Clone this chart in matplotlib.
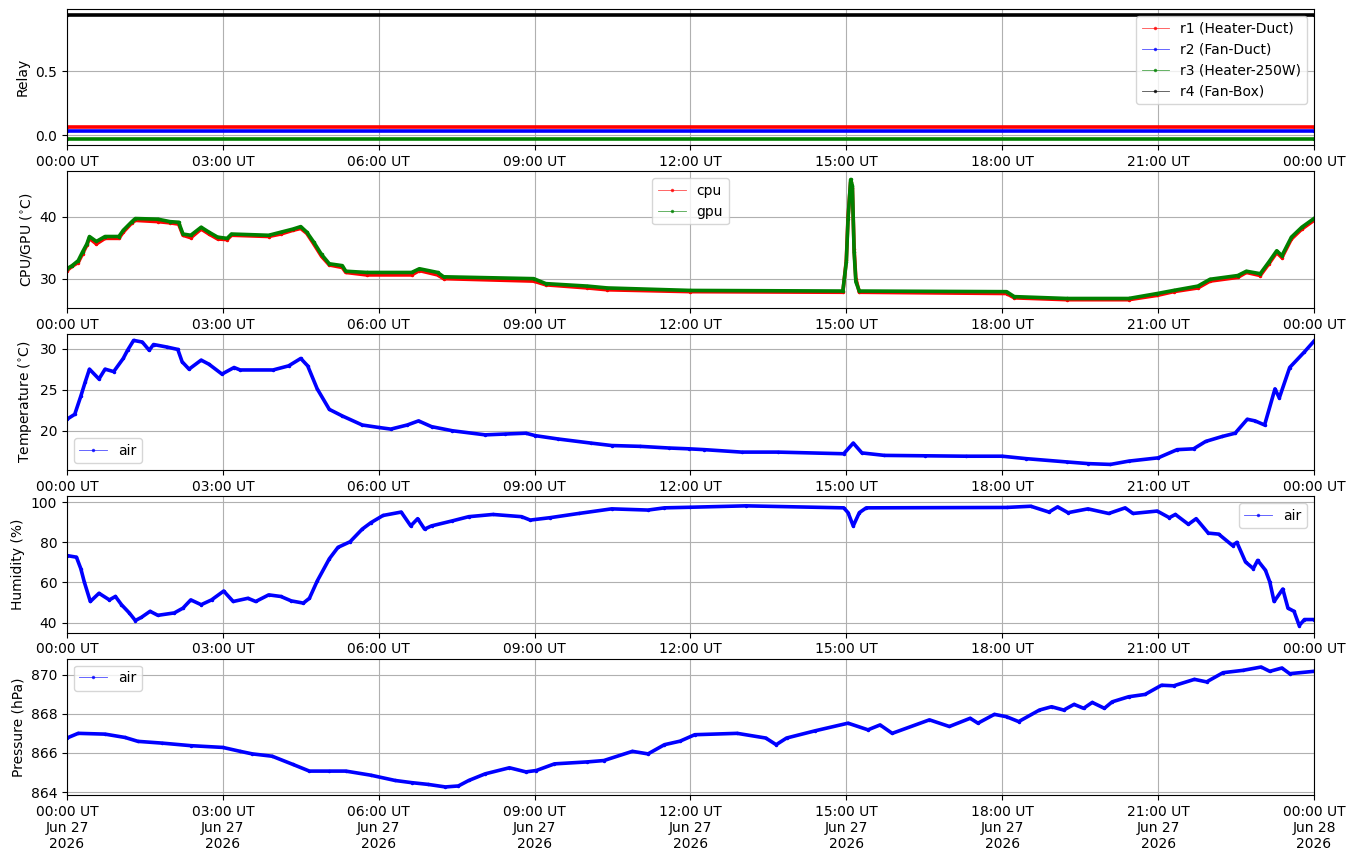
import numpy as np
import pandas as pd
import matplotlib
matplotlib.use('Agg')
import matplotlib.pyplot as plt
import matplotlib.dates as mdates
from matplotlib.lines import Line2D

day_start = pd.Timestamp('2026-06-27 00:00')
day_end = pd.Timestamp('2026-06-28 00:00')

# relay states (constant over the day), drawn with small offsets so they don't overlap
relay_min = [0, 1440]
relay_names = ['r1 (Heater-Duct)', 'r2 (Fan-Duct)', 'r3 (Heater-250W)', 'r4 (Fan-Box)']
relay_colors = ['red', 'blue', 'green', 'black']
relay_state = [[0, 0], [0, 0], [0, 0], [1, 1]]
relay_offset = [0.06, 0.03, -0.03, -0.06]

# cpu / gpu temperature (minutes since midnight, deg C)
cpu_min = [0, 6, 13, 18, 23, 26, 34, 44, 60, 65, 75, 79, 105, 119, 129, 134, 143, 155,
           164, 174, 185, 190, 233, 247, 261, 270, 277, 285, 294, 303, 318, 322, 346, 398,
           407, 428, 435, 539, 553, 601, 624, 720, 896, 900, 902, 905, 907, 909, 911, 915,
           1085, 1094, 1155, 1226, 1259, 1278, 1306, 1320, 1352, 1362, 1378, 1388, 1397,
           1403, 1414, 1426, 1440]
gpu_val = [31.6, 32.1, 32.9, 34.3, 35.6, 36.8, 36.0, 36.8, 36.8, 37.8, 39.2, 39.7, 39.6,
           39.2, 39.1, 37.2, 37.0, 38.3, 37.5, 36.7, 36.5, 37.2, 37.0, 37.5, 38.0, 38.4,
           37.5, 35.9, 33.9, 32.4, 32.1, 31.2, 31.0, 31.0, 31.6, 31.0, 30.3, 30.0, 29.2,
           28.8, 28.5, 28.1, 28.0, 32.7, 39.6, 46.0, 45.0, 34.3, 29.5, 28.0, 27.9, 27.1,
           26.8, 26.8, 27.6, 28.1, 28.8, 29.9, 30.5, 31.2, 30.8, 32.7, 34.5, 33.7, 36.7,
           38.3, 39.7]
cpu_val = [31.3, 32.0, 32.6, 34.0, 35.4, 36.5, 35.6, 36.5, 36.5, 37.5, 39.0, 39.4, 39.2,
           39.0, 38.8, 37.0, 36.6, 38.0, 37.2, 36.4, 36.3, 37.0, 36.8, 37.2, 37.8, 38.1,
           37.3, 35.6, 33.6, 32.2, 31.8, 31.0, 30.6, 30.6, 31.3, 30.6, 30.0, 29.6, 29.0,
           28.5, 28.2, 27.9, 27.8, 33.0, 40.0, 45.6, 44.6, 34.8, 30.0, 27.8, 27.6, 26.9,
           26.6, 26.6, 27.3, 27.9, 28.5, 29.6, 30.2, 31.0, 30.5, 32.4, 34.2, 33.4, 36.4,
           38.0, 39.4]

# air temperature (deg C)
temp_min = [0, 9, 16, 21, 26, 37, 44, 54, 65, 70, 77, 87, 95, 100, 115, 128, 133, 141, 155,
            164, 179, 193, 200, 238, 256, 270, 278, 289, 303, 318, 341, 360, 374, 393, 406,
            421, 445, 483, 506, 530, 541, 567, 605, 629, 662, 695, 718, 736, 779, 821, 897,
            908, 918, 944, 991, 1038, 1080, 1108, 1155, 1179, 1205, 1226, 1260, 1282, 1301,
            1315, 1334, 1349, 1363, 1372, 1383, 1395, 1400, 1412, 1429, 1440]
temp_val = [21.4, 22.0, 24.2, 25.9, 27.5, 26.3, 27.5, 27.2, 28.8, 29.8, 31.0, 30.8, 29.8,
            30.5, 30.2, 29.9, 28.4, 27.5, 28.6, 28.1, 26.9, 27.7, 27.4, 27.4, 27.9, 28.8,
            27.9, 25.1, 22.6, 21.8, 20.7, 20.4, 20.2, 20.7, 21.2, 20.5, 20.0, 19.5, 19.6,
            19.7, 19.4, 19.0, 18.5, 18.2, 18.1, 17.9, 17.8, 17.7, 17.4, 17.4, 17.2, 18.5,
            17.3, 17.0, 16.95, 16.9, 16.9, 16.6, 16.2, 16.0, 15.9, 16.3, 16.7, 17.7, 17.8,
            18.7, 19.3, 19.7, 21.4, 21.2, 20.7, 25.1, 24.0, 27.7, 29.6, 30.9]

# humidity (%)
hum_min = [0, 11, 16, 20, 27, 37, 49, 56, 63, 72, 79, 86, 96, 105, 124, 134, 143, 155, 167,
           181, 192, 209, 218, 233, 247, 259, 273, 280, 289, 303, 313, 327, 341, 351, 365,
           386, 397, 405, 413, 421, 445, 464, 492, 525, 535, 558, 591, 629, 671, 690, 720,
           784, 897, 902, 908, 915, 923, 1085, 1113, 1134, 1144, 1156, 1179, 1203, 1222,
           1231, 1259, 1273, 1280, 1295, 1304, 1318, 1330, 1346, 1351, 1361, 1370, 1375,
           1384, 1389, 1394, 1404, 1410, 1417, 1423, 1429, 1440]
hum_val = [73.4, 72.6, 66.9, 60.3, 50.5, 54.6, 51.3, 53.0, 48.9, 44.8, 41.0, 42.6, 45.6,
           43.6, 44.8, 47.2, 51.3, 48.9, 51.3, 55.7, 50.5, 52.1, 50.5, 53.8, 53.0, 50.8,
           49.7, 52.1, 60.7, 71.8, 77.5, 80.3, 86.6, 89.8, 93.4, 95.1, 88.2, 91.8, 86.6,
           88.2, 90.7, 92.8, 93.9, 92.8, 91.1, 92.3, 94.4, 96.7, 96.1, 97.2, 97.5, 98.2,
           97.2, 94.8, 88.2, 94.8, 97.2, 97.4, 98.0, 95.1, 97.7, 94.8, 96.7, 94.4, 97.2,
           94.4, 95.6, 92.3, 93.9, 89.0, 91.8, 84.6, 84.1, 78.4, 80.0, 70.2, 66.9, 71.0,
           66.1, 60.3, 50.5, 56.7, 47.2, 45.6, 38.5, 41.5, 41.5]

# air pressure (hPa)
pres_min = [0, 13, 44, 67, 82, 110, 143, 180, 200, 214, 237, 261, 280, 303, 322, 351, 379,
            398, 417, 437, 452, 464, 483, 511, 530, 542, 563, 601, 620, 653, 671, 690, 708,
            725, 774, 807, 819, 831, 864, 902, 925, 939, 953, 996, 1019, 1043, 1052, 1071,
            1085, 1099, 1123, 1137, 1151, 1163, 1174, 1184, 1198, 1207, 1226, 1245, 1264,
            1278, 1302, 1316, 1335, 1358, 1379, 1389, 1403, 1412, 1440]
pres_val = [866.76, 867.0, 866.96, 866.79, 866.59, 866.5, 866.37, 866.28, 866.08, 865.95,
            865.83, 865.41, 865.07, 865.07, 865.07, 864.86, 864.59, 864.48, 864.39, 864.26,
            864.31, 864.59, 864.93, 865.24, 865.03, 865.1, 865.44, 865.54, 865.61, 866.08,
            865.95, 866.42, 866.6, 866.93, 867.0, 866.76, 866.42, 866.76, 867.13, 867.52,
            867.18, 867.43, 867.0, 867.69, 867.35, 867.77, 867.52, 867.97, 867.85, 867.6,
            868.19, 868.36, 868.19, 868.48, 868.28, 868.58, 868.28, 868.61, 868.87, 868.99,
            869.46, 869.43, 869.76, 869.63, 870.1, 870.22, 870.39, 870.17, 870.34, 870.05,
            870.17]


def to_time(minutes):
    return day_start + pd.to_timedelta(minutes, unit='min')


def draw(ax, minutes, values, color):
    # thick line + dots stands in for the dense 1-minute samples
    ax.plot(to_time(minutes), values, color=color, lw=2.6, marker='.', ms=3,
            solid_joinstyle='round')


def handle(color):
    return Line2D([], [], color=color, lw=0.6, alpha=0.7, marker='.', ms=3)


fig, axes = plt.subplots(5, 1, figsize=(13.55, 8.61), dpi=100)
fig.subplots_adjust(left=0.0494, right=0.9697, top=0.9895, bottom=0.0767, hspace=0.191)

# relays
ax = axes[0]
for state, off, col in zip(relay_state, relay_offset, relay_colors):
    draw(ax, relay_min, np.array(state) + off, col)
ax.set_ylim(-0.08, 0.985)
ax.set_ylabel('Relay')
ax.legend([handle(c) for c in relay_colors], relay_names, loc='upper right')

# cpu / gpu
ax = axes[1]
draw(ax, cpu_min, cpu_val, 'red')
draw(ax, cpu_min, gpu_val, 'green')
ax.set_ylim(25.3, 47.3)
ax.set_ylabel('CPU/GPU ($^{\\circ}$C)')
ax.legend([handle('red'), handle('green')], ['cpu', 'gpu'], loc='upper center')

# air temperature
ax = axes[2]
draw(ax, temp_min, temp_val, 'blue')
ax.set_ylim(15.2, 31.8)
ax.set_yticks([20, 25, 30])
ax.set_ylabel('Temperature ($^{\\circ}$C)')
ax.legend([handle('blue')], ['air'], loc='lower left')

# humidity
ax = axes[3]
draw(ax, hum_min, hum_val, 'blue')
ax.set_ylim(35, 103)
ax.set_ylabel('Humidity (%)')
ax.legend([handle('blue')], ['air'], loc='upper right')

# pressure
ax = axes[4]
draw(ax, pres_min, pres_val, 'blue')
ax.set_ylim(863.85, 870.82)
ax.set_ylabel('Pressure (hPa)')
ax.legend([handle('blue')], ['air'], loc='upper left')

for i, ax in enumerate(axes):
    ax.set_xlim(day_start, day_end)
    ax.xaxis.set_major_locator(mdates.HourLocator(byhour=range(0, 24, 3)))
    if i == len(axes) - 1:
        ax.xaxis.set_major_formatter(mdates.DateFormatter('%H:%M UT\n%b %d\n%Y'))
    else:
        ax.xaxis.set_major_formatter(mdates.DateFormatter('%H:%M UT'))
    for lbl in ax.get_xticklabels():
        lbl.set_horizontalalignment('center')
    ax.grid(True)

fig.savefig('out.png', dpi=100)
